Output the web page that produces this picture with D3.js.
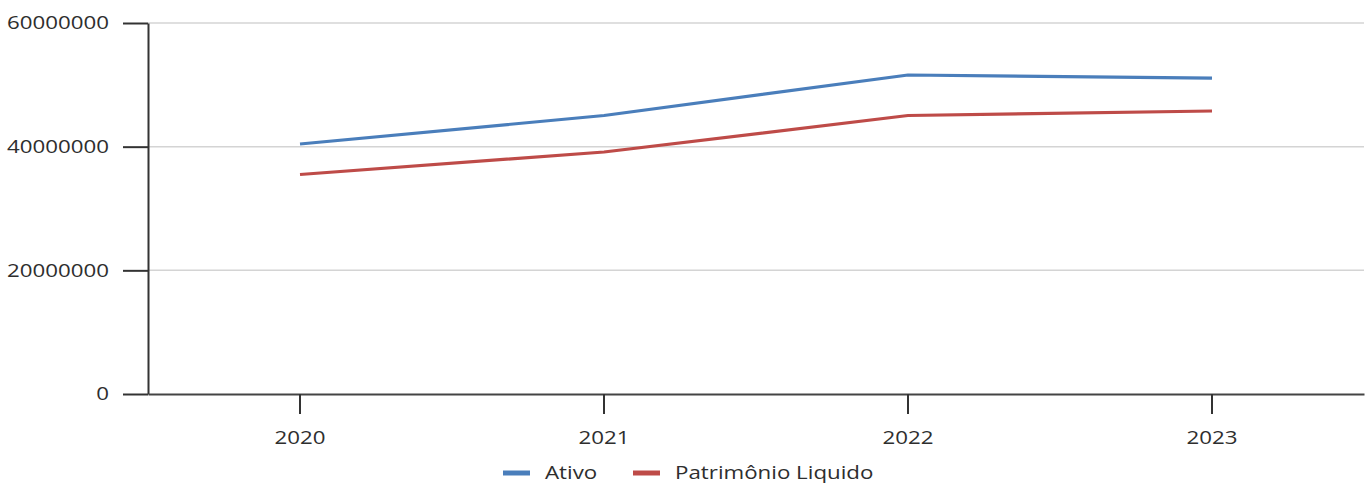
<!DOCTYPE html>
<html>
<head>
<meta charset="utf-8">
<script src="https://cdn.jsdelivr.net/npm/d3@7"></script>
<style>
  html, body { margin: 0; padding: 0; background: #fff; }
  svg { display: block; }
  text { font-family: "Open Sans", "Noto Sans", sans-serif; fill: #2e2e2e; }
</style>
</head>
<body>
<svg id="chart" width="1372" height="483"></svg>
<script>
// Balance sheet totals per year
const years = ["2020", "2021", "2022", "2023"];
const ativo = [40430000, 45040000, 51590000, 51100000];
const patrimonioLiquido = [35500000, 39140000, 45040000, 45770000];
const yTicks = [0, 20000000, 40000000, 60000000];
const seriesNames = ["Ativo", "Patrimônio Liquido"];
const seriesColors = ["#4a7ebb", "#be4b48"];

const W = 1372, H = 483;
const margin = { left: 148, right: 8, top: 23, bottom: 89 };
const stretch = 1.24; // wide glyph proportions
const fontSize = 18;

const svg = d3.select("#chart");

const x = d3.scaleBand().domain(years).range([margin.left, W - margin.right]).padding(0);
const y = d3.scaleLinear().domain([0, 60000000]).range([H - margin.bottom, margin.top]);
const cx = d => x(d) + x.bandwidth() / 2;

// horizontal grid
svg.append("g")
  .selectAll("line")
  .data(yTicks.filter(v => v > 0))
  .join("line")
  .attr("x1", margin.left).attr("x2", W - margin.right)
  .attr("y1", d => y(d)).attr("y2", d => y(d))
  .attr("stroke", "#d4d4d4").attr("stroke-width", 1.5);

// y axis
const yAxis = svg.append("g")
  .attr("transform", `translate(${margin.left},0)`)
  .call(d3.axisLeft(y).tickValues(yTicks).tickFormat(d3.format("d")).tickSize(25).tickPadding(14).tickSizeOuter(0));
yAxis.select(".domain").attr("stroke", "#333").attr("stroke-width", 2);
yAxis.selectAll(".tick line").attr("stroke", "#333").attr("stroke-width", 2);
yAxis.selectAll(".tick text")
  .attr("font-size", fontSize)
  .attr("font-family", null)
  .attr("x", 0)
  .attr("transform", `translate(-39,0) scale(${stretch},1)`);

// x axis
const xAxis = svg.append("g")
  .attr("transform", `translate(0,${y(0)})`)
  .call(d3.axisBottom(x).tickSize(20).tickPadding(14).tickSizeOuter(0));
xAxis.select(".domain").attr("stroke", "#444").attr("stroke-width", 2);
xAxis.selectAll(".tick line").attr("stroke", "#333").attr("stroke-width", 2);
xAxis.selectAll(".tick text")
  .attr("font-size", fontSize)
  .attr("font-family", null)
  .attr("y", 0)
  .attr("dy", 0)
  .attr("transform", `translate(0,50) scale(${stretch},1)`);

// series lines
const line = d3.line().x((d, i) => cx(years[i])).y(d => y(d));
[ativo, patrimonioLiquido].forEach((vals, i) => {
  svg.append("path")
    .datum(vals)
    .attr("d", line)
    .attr("fill", "none")
    .attr("stroke", seriesColors[i])
    .attr("stroke-width", 3.2)
    .attr("stroke-linejoin", "round");
});

// legend
const legendItems = [
  { name: seriesNames[0], color: seriesColors[0], x: 503 },
  { name: seriesNames[1], color: seriesColors[1], x: 633 }
];
const lg = svg.append("g").selectAll("g").data(legendItems).join("g")
  .attr("transform", d => `translate(${d.x},473)`);
lg.append("line")
  .attr("x1", 0).attr("x2", 27).attr("y1", 0).attr("y2", 0)
  .attr("stroke", d => d.color).attr("stroke-width", 5);
lg.append("text")
  .attr("transform", `translate(42,5.5) scale(${stretch},1)`)
  .attr("font-size", fontSize)
  .text(d => d.name);
</script>
</body>
</html>
